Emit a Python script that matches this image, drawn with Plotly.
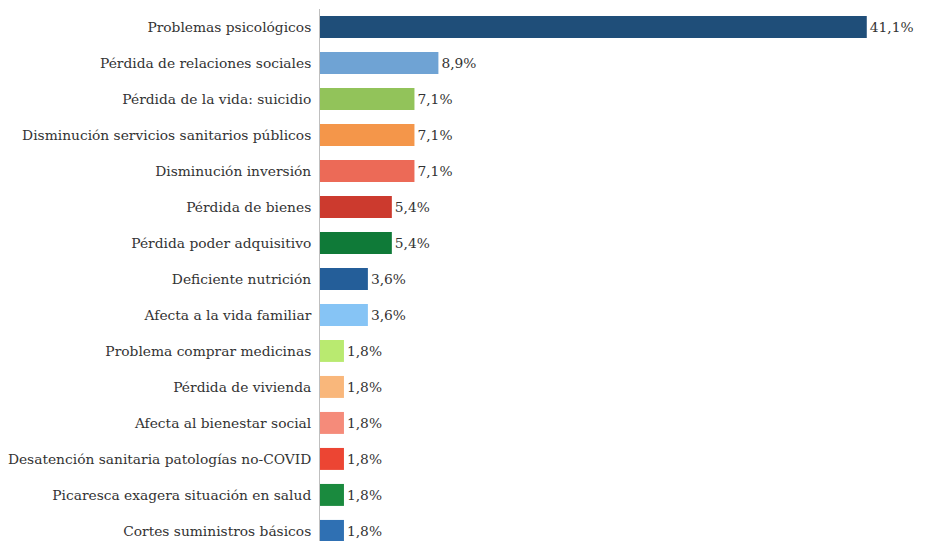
import plotly.graph_objects as go

categories = ["Problemas psicológicos",
              "Pérdida de relaciones sociales",
              "Pérdida de la vida: suicidio",
              "Disminución servicios sanitarios públicos",
              "Disminución inversión",
              "Pérdida de bienes",
              "Pérdida poder adquisitivo",
              "Deficiente nutrición",
              "Afecta a la vida familiar",
              "Problema comprar medicinas",
              "Pérdida de vivienda",
              "Afecta al bienestar social",
              "Desatención sanitaria patologías no-COVID",
              "Picaresca exagera situación en salud",
              "Cortes suministros básicos"]
values = [41.1, 8.9, 7.1, 7.1, 7.1, 5.4, 5.4, 3.6, 3.6, 1.8, 1.8, 1.8, 1.8, 1.8, 1.8]
labels = ["41,1%", "8,9%", "7,1%", "7,1%", "7,1%", "5,4%", "5,4%", "3,6%", "3,6%",
          "1,8%", "1,8%", "1,8%", "1,8%", "1,8%", "1,8%"]
colors = ["#1F4E79", "#6FA3D4", "#92C35A", "#F4964A", "#EC6A57",
          "#CC3A2E", "#0F7A38", "#245E99", "#86C4F5", "#B9EA70",
          "#F9B77B", "#F58B7A", "#EC4533", "#1A8A3E", "#2F70B3"]

font = dict(family="DejaVu Serif", size=13.8, color="#333333")

fig = go.Figure(go.Bar(
    x=values, y=categories, orientation="h",
    marker=dict(color=colors, line=dict(width=0)),
    text=labels, textposition="outside", cliponaxis=False,
    textfont=font,
))

# page body has an 8px margin, so the figure is a bit smaller than the window
fig.update_layout(
    width=917, height=533,
    margin=dict(l=312, r=5, t=1, b=0),
    plot_bgcolor="white", paper_bgcolor="white",
    bargap=0.39, showlegend=False, font=font,
)
fig.update_xaxes(range=[0, 45.1], visible=False)
fig.update_yaxes(type="category", range=[14.28, -0.5],
                 showline=True, linecolor="#BFBFBF", linewidth=1,
                 ticks="", ticklabelstandoff=5, showgrid=False, tickfont=font)

fig.write_html("out.html")
